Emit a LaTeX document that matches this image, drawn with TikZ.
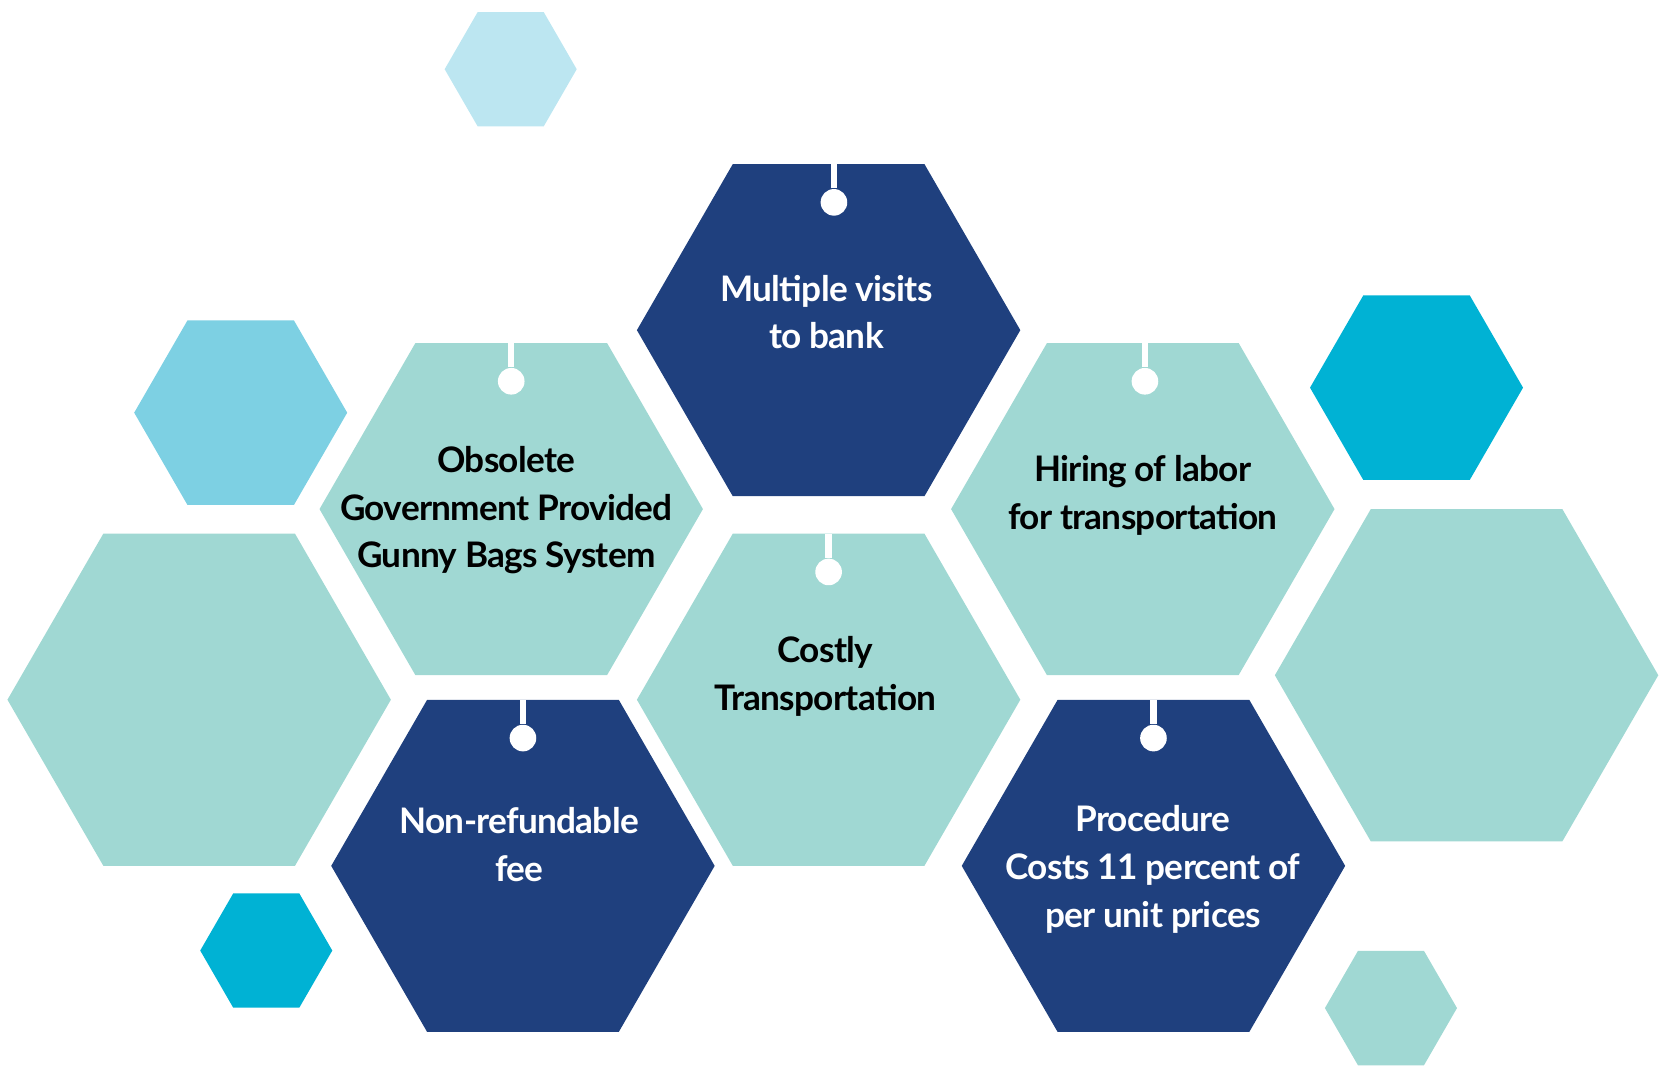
\documentclass[tikz,border=0pt]{standalone}
\usepackage{fontspec}
\setmainfont{Lato}[LetterSpace=-2.0]
\usetikzlibrary{shapes.geometric}

\definecolor{navy}{HTML}{1F407E}
\definecolor{mint}{HTML}{A0D8D3}
\definecolor{cyanhex}{HTML}{00B2D4}
\definecolor{skyhex}{HTML}{7DD0E3}
\definecolor{palehex}{HTML}{BCE6F1}

\tikzset{
  hexa/.style={regular polygon, regular polygon sides=6, inner sep=0pt, outer sep=0pt, draw=none},
  bighex/.style={hexa, minimum size=36mm},
  midhex/.style={hexa, minimum size=20mm},
  smallhex/.style={hexa, minimum size=12.4mm},
  hextext/.style={font=\bfseries\fontsize{9.4pt}{12.8pt}\selectfont, align=center, inner sep=0pt},
  pindot/.style={circle, fill=white, inner sep=0pt, minimum size=2.5mm},
  pinline/.style={draw=white, line width=0.6mm},
}

\begin{document}
\begin{tikzpicture}[x=1mm,y=-1mm]
        \useasboundingbox (0,0) rectangle (156.8,100);

        % side hexagons
        \node[smallhex, fill=palehex] (hexTop) at (47.95,6.5) {};
        \node[midhex, fill=skyhex] (hexLeft) at (22.6,38.75) {};
        \node[midhex, fill=cyanhex] (hexRight) at (133,36.4) {};
        \node[smallhex, fill=cyanhex] (hexBotL) at (25,89.25) {};
        \node[smallhex, fill=mint] (hexBotR) at (130.6,94.65) {};
        \node[bighex, fill=mint] (bigL) at (18.7,65.7) {};
        \node[bighex, fill=mint] (bigR) at (137.7,63.4) {};

        % issue hexagons
        \node[bighex, fill=navy] (visits) at (77.8,31) {};
        \node[bighex, fill=mint] (obsolete) at (48,47.8) {};
        \node[bighex, fill=mint] (hiring) at (107.3,47.8) {};
        \node[bighex, fill=mint] (costly) at (77.8,65.7) {};
        \node[bighex, fill=navy] (nonref) at (49.1,81.3) {};
        \node[bighex, fill=navy] (procedure) at (108.3,81.3) {};

        % pins
        \node[pindot] (visitsPin) at (78.3,19) {};
        \node[pindot] (obsoletePin) at (48,35.8) {};
        \node[pindot] (hiringPin) at (107.5,35.8) {};
        \node[pindot] (costlyPin) at (77.8,53.7) {};
        \node[pindot] (nonrefPin) at (49.1,69.3) {};
        \node[pindot] (procedurePin) at (108.3,69.3) {};

        \draw[pinline] (visitsPin) -- (visitsPin |- visits.north);
        \draw[pinline] (obsoletePin) -- (obsoletePin |- obsolete.north);
        \draw[pinline] (hiringPin) -- (hiringPin |- hiring.north);
        \draw[pinline] (costlyPin) -- (costlyPin |- costly.north);
        \draw[pinline] (nonrefPin) -- (nonrefPin |- nonref.north);
        \draw[pinline] (procedurePin) -- (procedurePin |- procedure.north);

        % labels
        \node[hextext, text=white] (visitsText) at (77.6,29.3) {Multiple visits\\to bank};
        \node[hextext, text=black] (obsoleteText) at (47.55,47.9) {Obsolete\\Government Provided\\Gunny Bags System};
        \node[hextext, text=black] (hiringText) at (107.3,46.5) {Hiring of labor\\for transportation};
        \node[hextext, text=black] (costlyText) at (77.5,63.5) {Costly\\Transportation};
        \node[hextext, text=white] (nonrefText) at (48.75,79.3) {Non-refundable\\fee};
        \node[hextext, text=white] (procedureText) at (108.25,81.65) {Procedure\\Costs 11 percent of\\per unit prices};
\end{tikzpicture}
\end{document}
